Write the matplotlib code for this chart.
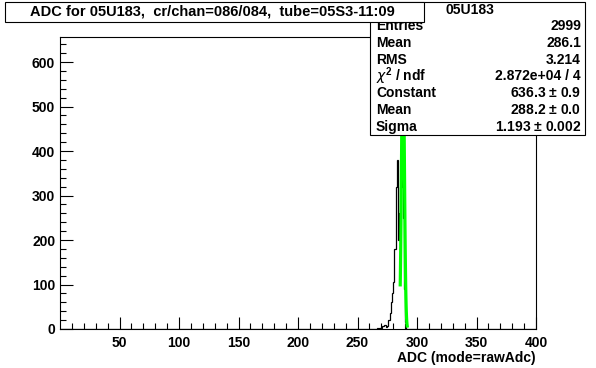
import numpy as np
import matplotlib
matplotlib.use("Agg")
import matplotlib.pyplot as plt
from matplotlib.patches import Rectangle

# ADC histogram, 1 count per unit bin (bin lower edges -> counts)
adc_bins = [258, 262, 264, 265, 266, 267, 268, 269, 270, 271, 272, 273, 274,
            275, 276, 277, 278, 279, 280, 281, 282, 283,
            284, 285, 286, 287, 288, 289, 290]
adc_counts = [1, 1, 1, 1, 2, 1, 2, 2, 3, 6, 9, 8, 5,
              6, 20, 36, 60, 80, 105, 180, 320, 380,
              200, 260, 320, 625, 250, 90, 16]

# gaussian fit result
fit_const = 636.3
fit_mean = 288.2
fit_sigma = 1.193
fit_range = (285.9, 291.8)

title = "ADC for 05U183,  cr/chan=086/084,  tube=05S3-11:09"
stat_title = "05U183"
stat_names = ["Entries", "Mean", "RMS", r"$\chi^{2}$ / ndf", "Constant", "Mean", "Sigma"]
stat_values = ["2999", "286.1", "3.214", "2.872e+04 / 4",
               r"636.3 $\pm$ 0.9", r"288.2 $\pm$ 0.0", r"1.193 $\pm$ 0.002"]
xlabel = "ADC (mode=rawAdc)"

plt.rcParams['font.family'] = ['Liberation Sans', 'DejaVu Sans']
plt.rcParams['mathtext.fontset'] = 'custom'
plt.rcParams['mathtext.rm'] = 'Liberation Sans:bold'

W, H = 596, 368
fig = plt.figure(figsize=(W / 100, H / 100), dpi=100)

def fx(x):
    return x / W

def fy(y):
    return 1 - y / H

ax = fig.add_axes([fx(60), fy(329), fx(536) - fx(60), fy(37) - fy(329)])

counts = np.zeros(400)
for b, c in zip(adc_bins, adc_counts):
    counts[b] = c
edges = np.arange(401)
ax.stairs(counts, edges, color='black', linewidth=0.9, baseline=0)

xf = np.linspace(fit_range[0], fit_range[1], 100)
yf = fit_const * np.exp(-0.5 * ((xf - fit_mean) / fit_sigma) ** 2)
ax.plot(xf, yf, color='#00ff00', linewidth=2.3, zorder=3)

ax.set_xlim(0, 400)
ax.set_ylim(0, counts.max() * 1.05)
ax.set_xticks(np.arange(50, 401, 50))
ax.set_xticks(np.arange(10, 400, 10), minor=True)
ax.set_yticks(np.arange(0, 601, 100))
ax.set_yticks(np.arange(0, 656, 20), minor=True)
ax.tick_params(which='both', direction='in', top=False, right=False, width=0.8)
ax.tick_params(which='major', length=9, labelsize=10)
ax.tick_params(which='minor', length=4.5)
ax.tick_params(axis='x', pad=5)
for lab in ax.get_xticklabels() + ax.get_yticklabels():
    lab.set_fontweight('bold')
for sp in ax.spines.values():
    sp.set_linewidth(0.8)

fig.text(fx(536), fy(358), xlabel, ha='right', va='center',
         fontsize=10, fontweight='bold')

# stat box
fig.add_artist(Rectangle((fx(370), fy(135)), fx(585) - fx(370), fy(2) - fy(135),
                         transform=fig.transFigure, facecolor='white',
                         edgecolor='black', linewidth=0.8, zorder=5))
fig.text(fx(470), fy(10), stat_title, ha='center', va='center',
         fontsize=10, fontweight='bold', zorder=6)
for i, (n, v) in enumerate(zip(stat_names, stat_values)):
    yy = 26 + 16.8 * i
    fig.text(fx(376), fy(yy), n, ha='left', va='center',
             fontsize=10, fontweight='bold', zorder=6)
    fig.text(fx(581), fy(yy), v, ha='right', va='center',
             fontsize=10, fontweight='bold', zorder=6)

# title box
fig.add_artist(Rectangle((fx(5), fy(22)), fx(424) - fx(5), fy(2) - fy(22),
                         transform=fig.transFigure, facecolor='white',
                         edgecolor='black', linewidth=0.8, zorder=7))
fig.text(fx(212), fy(12), title, ha='center', va='center',
         fontsize=10.5, fontweight='bold', zorder=8)

fig.savefig("out.png", dpi=100)
